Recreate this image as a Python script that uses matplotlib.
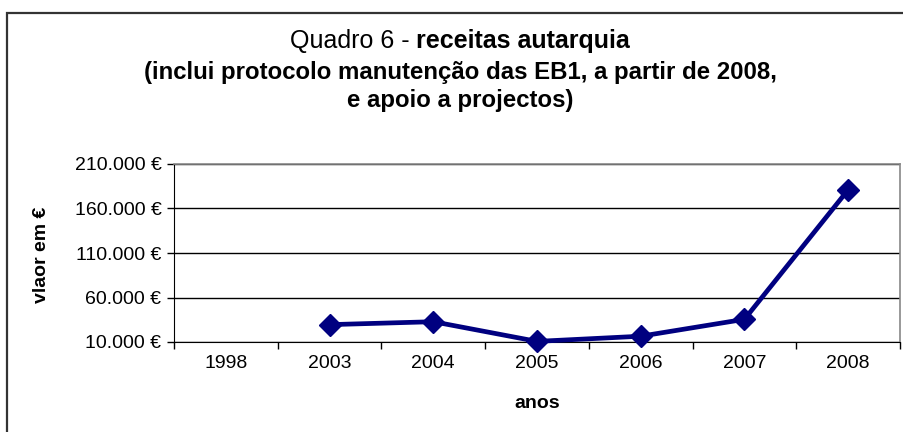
import numpy as np
import matplotlib
matplotlib.use("Agg")
import matplotlib.pyplot as plt
from matplotlib.patches import Rectangle
from matplotlib.ticker import FixedLocator, FuncFormatter

years = ["1998", "2003", "2004", "2005", "2006", "2007", "2008"]
receitas = [np.nan, 29500, 32800, 10700, 16500, 35500, 181000]
y_ticks = [10000, 60000, 110000, 160000, 210000]

plt.rcParams['font.family'] = ['Liberation Sans', 'DejaVu Sans']

W, H = 904, 432
fig = plt.figure(figsize=(W / 100, H / 100), dpi=100)
fig.patch.set_facecolor('white')

def fx(px):
    return px / W

def fy(py):
    return 1 - py / H

# outer chart frame (cut at right and bottom)
fig.patches.append(Rectangle((fx(7), fy(440)), fx(910) - fx(7), fy(13) - fy(440),
                             transform=fig.transFigure, fill=False,
                             edgecolor='#333333', linewidth=1.6))

ax = fig.add_axes([fx(174), fy(342), fx(900) - fx(174), fy(164) - fy(342)])
x = np.arange(len(years))
ax.plot(x, receitas, color='#000080', linewidth=3.4, marker='D',
        markersize=11, markerfacecolor='#000080', markeredgecolor='#000080',
        zorder=5, clip_on=False)

ax.set_xlim(-0.5, len(years) - 0.5)
ax.set_ylim(y_ticks[0], y_ticks[-1])
ax.yaxis.set_major_locator(FixedLocator(y_ticks))
ax.yaxis.set_major_formatter(FuncFormatter(lambda v, p: f"{int(v):,}".replace(",", ".") + " €"))
ax.xaxis.set_major_locator(FixedLocator(np.arange(-0.5, len(years), 1.0)))
ax.xaxis.set_major_formatter(FuncFormatter(lambda v, p: ""))
ax.xaxis.set_minor_locator(FixedLocator(x))
ax.set_xticklabels(years, minor=True)
ax.tick_params(axis='x', which='major', length=5, width=1, color='black', direction='out')
ax.tick_params(axis='x', which='minor', length=0, pad=9, labelsize=14)
ax.tick_params(axis='y', which='major', length=5, width=1, color='black', direction='out',
               labelsize=14, pad=4)

ax.grid(axis='y', color='black', linewidth=1.0)
for side in ['top', 'right']:
    ax.spines[side].set_color('#888888')
    ax.spines[side].set_linewidth(1.2)
ax.spines['left'].set_color('black')
ax.spines['bottom'].set_color('black')
ax.spines['bottom'].set_zorder(4)
ax.set_axisbelow(True)

# titles
cx = 460
t1 = fig.text(0, fy(41), "Quadro 6 - ", ha='left', va='center', fontsize=18)
t2 = fig.text(0, fy(41), "receitas autarquia", ha='left', va='center', fontsize=18,
              fontweight='bold')
fig.canvas.draw()
r = fig.canvas.get_renderer()
w1 = t1.get_window_extent(r).width
w2 = t2.get_window_extent(r).width
start = cx - (w1 + w2) / 2
t1.set_x(fx(start))
t2.set_x(fx(start + w1))

fig.text(fx(cx), fy(72), "(inclui protocolo manutenção das EB1, a partir de 2008,",
         ha='center', va='center', fontsize=17.3, fontweight='bold')
fig.text(fx(cx), fy(101), "e apoio a projectos)", ha='center', va='center',
         fontsize=17.3, fontweight='bold')

fig.text(fx(42), fy(255), "vlaor em €", rotation=90, ha='center', va='center',
         fontsize=14, fontweight='bold')
fig.text(fx(537), fy(403), "anos", ha='center', va='center', fontsize=14,
         fontweight='bold')

fig.savefig("out.png", dpi=100)
